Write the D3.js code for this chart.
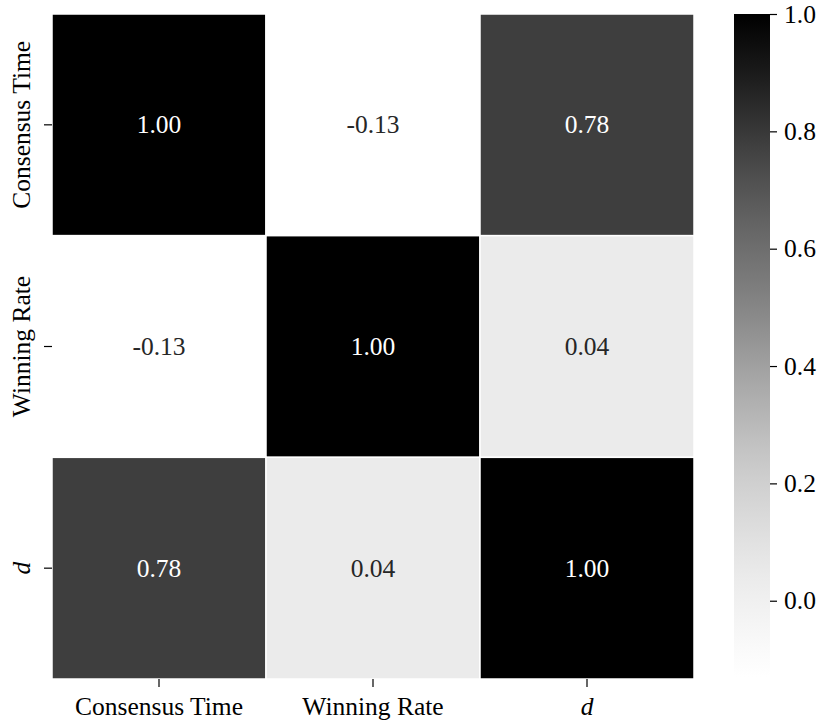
<!DOCTYPE html>
<meta charset="utf-8">
<style>
body { margin: 0; background: #fff; }
.axis path { display: none; }
.axis line { stroke: #000; stroke-width: 1.2px; }
</style>
<body>
<script src="https://d3js.org/d3.v7.min.js"></script>
<script>

// labels and correlation matrix
var labels = ["Consensus Time", "Winning Rate", "d"];
var rowConsensus = [1.00, -0.13, 0.78];
var rowWinning = [-0.13, 1.00, 0.04];
var rowD = [0.78, 0.04, 1.00];
var cbTicks = [0.0, 0.2, 0.4, 0.6, 0.8, 1.0];

var FONT = "'Liberation Serif'";
var FS = "25.5px";

var matrix = [rowConsensus, rowWinning, rowD];
var cells = [];
matrix.forEach(function(row, i) {
  row.forEach(function(v, j) { cells.push({row: labels[i], col: labels[j], value: v}); });
});

var W = 817, H = 721;
var hm = {left: 52, top: 14, right: 694, bottom: 679};
var cb = {left: 734, right: 770, top: 14, bottom: 677};

var vmin = d3.min(cells, function(d) { return d.value; }),
    vmax = d3.max(cells, function(d) { return d.value; });

var color = d3.scaleSequential(d3.interpolateGreys).domain([vmin, vmax]);

var x = d3.scaleBand().domain(labels).range([hm.left, hm.right]);
var y = d3.scaleBand().domain(labels).range([hm.top, hm.bottom]);

var svg = d3.select("body").append("svg")
    .attr("width", W)
    .attr("height", H);

// cells
svg.selectAll(".cell")
    .data(cells)
  .enter().append("rect")
    .attr("class", "cell")
    .attr("x", function(d) { return x(d.col); })
    .attr("y", function(d) { return y(d.row); })
    .attr("width", x.bandwidth())
    .attr("height", y.bandwidth())
    .attr("fill", function(d) { return color(d.value); })
    .attr("stroke", "#fff")
    .attr("stroke-width", 1.5);

// annotations
svg.selectAll(".annot")
    .data(cells)
  .enter().append("text")
    .attr("class", "annot")
    .attr("x", function(d) { return x(d.col) + x.bandwidth() / 2; })
    .attr("y", function(d) { return y(d.row) + y.bandwidth() / 2; })
    .attr("text-anchor", "middle")
    .attr("dy", "0.33em")
    .style("font-family", FONT)
    .style("font-size", FS)
    .style("fill", function(d) { return (d.value - vmin) / (vmax - vmin) > 0.5 ? "#fff" : "#262626"; })
    .text(function(d) { return d.value.toFixed(2); });

// x axis
var xAxis = svg.append("g")
    .attr("class", "axis")
    .attr("transform", "translate(0," + hm.bottom + ")")
    .call(d3.axisBottom(x).tickSize(8).tickPadding(6));
xAxis.selectAll("text")
    .attr("dy", "0.85em");

// y axis
var yAxis = svg.append("g")
    .attr("class", "axis")
    .attr("transform", "translate(" + hm.left + ",0)")
    .call(d3.axisLeft(y).tickSize(8).tickPadding(6));
yAxis.selectAll("text")
    .attr("text-anchor", "middle")
    .attr("dy", null)
    .attr("x", null)
    .attr("transform", "translate(-22,0) rotate(-90)");

// colorbar
var cy = d3.scaleLinear().domain([vmin, vmax]).range([cb.bottom, cb.top]);
var grad = svg.append("defs").append("linearGradient")
    .attr("id", "cbgrad")
    .attr("x1", 0).attr("y1", 1).attr("x2", 0).attr("y2", 0);
d3.range(0, 1.0001, 0.05).forEach(function(t) {
  grad.append("stop")
      .attr("offset", t)
      .attr("stop-color", color(vmin + t * (vmax - vmin)));
});
svg.append("rect")
    .attr("x", cb.left)
    .attr("y", cb.top)
    .attr("width", cb.right - cb.left)
    .attr("height", cb.bottom - cb.top)
    .attr("fill", "url(#cbgrad)");

var cbAxis = svg.append("g")
    .attr("class", "axis")
    .attr("transform", "translate(" + cb.right + ",0)")
    .call(d3.axisRight(cy).tickValues(cbTicks).tickFormat(d3.format(".1f")).tickSize(7).tickPadding(7));

svg.selectAll(".axis").attr("font-family", null).attr("font-size", null);
svg.selectAll(".axis text")
    .style("font-family", FONT)
    .style("font-size", FS)
    .style("fill", "#000")
    .filter(function(d) { return d === "d"; })
    .style("font-style", "italic");

</script>
</body>
